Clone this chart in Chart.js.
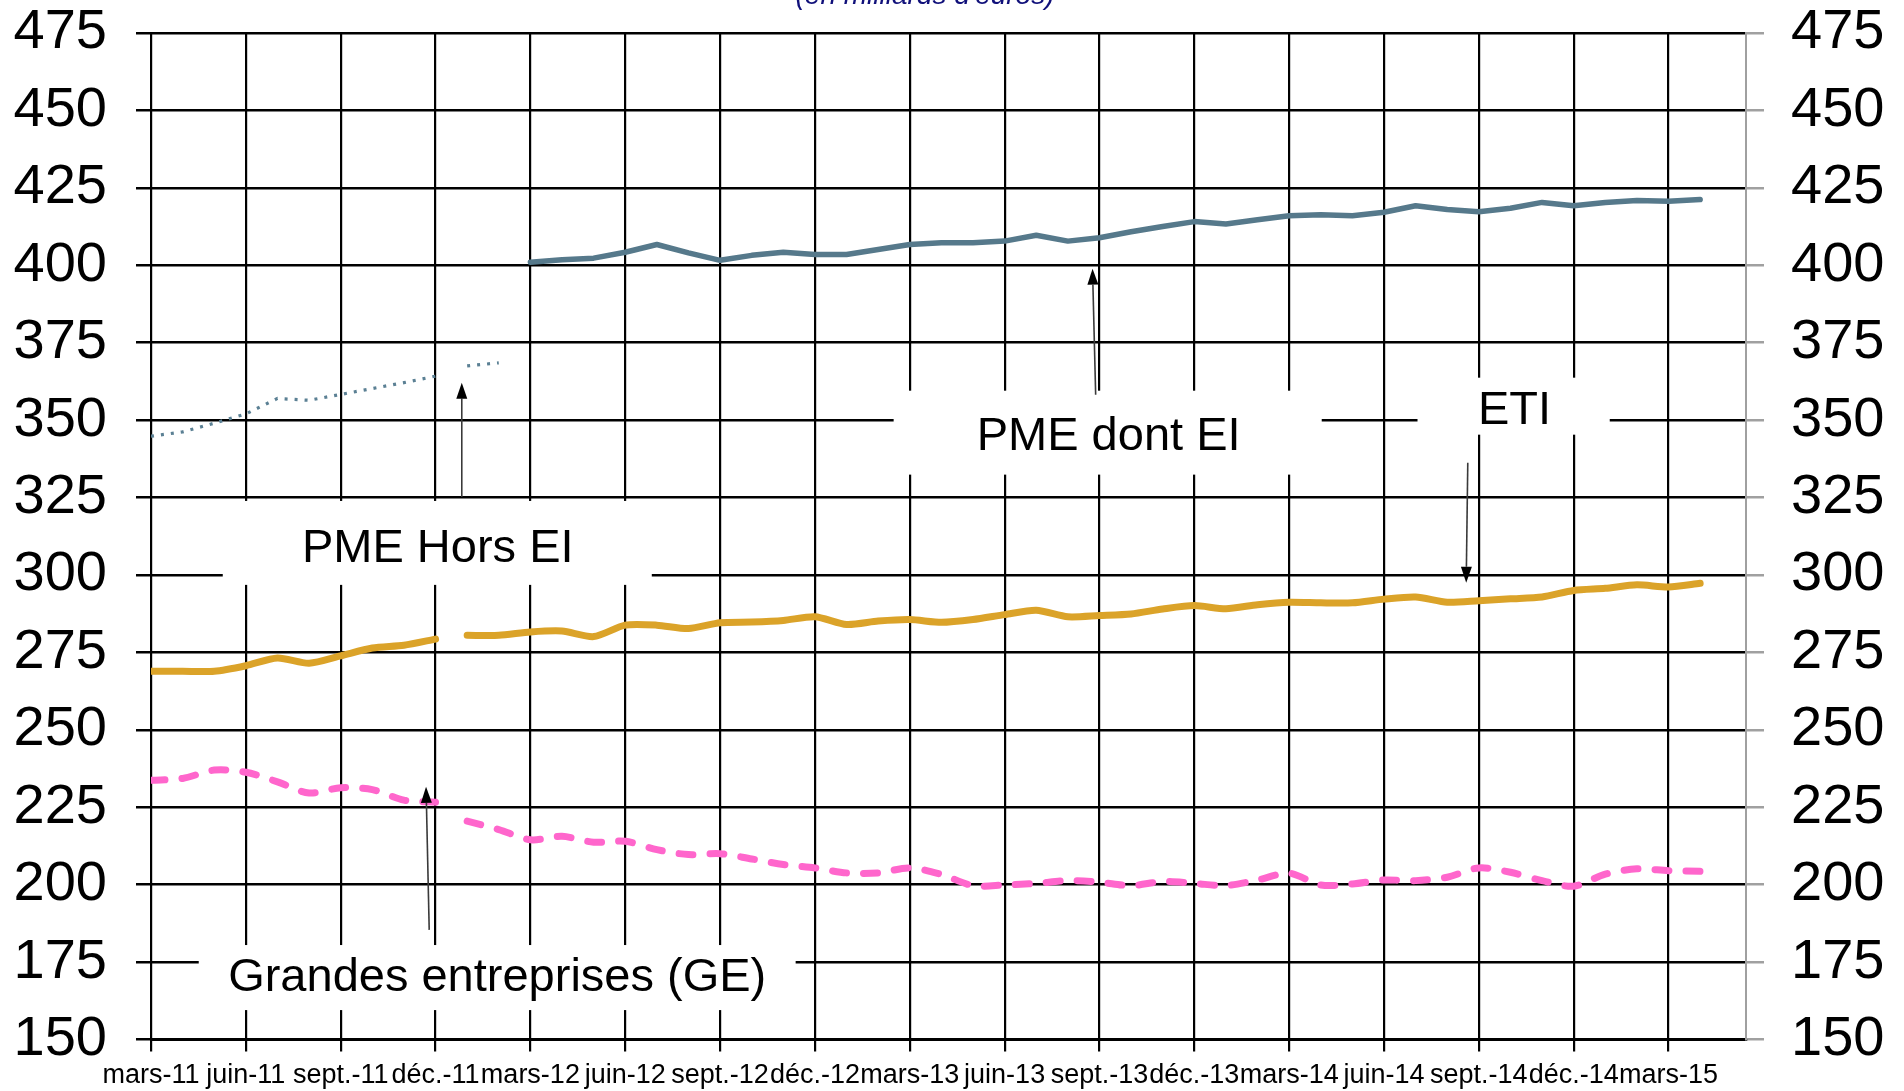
<!DOCTYPE html>
<html>
<head>
<meta charset="utf-8">
<script src="https://cdn.jsdelivr.net/npm/chart.js@4.4.1/dist/chart.umd.min.js"></script>
<style>
html,body{margin:0;padding:0;background:#fff;overflow:hidden}
#c{display:block}
</style>
</head>
<body>
<canvas id="c" width="1904" height="1091"></canvas>
<script>
// ---- data (monthly, month 0 = mars-11) ----
const tickLabels = ['mars-11','juin-11','sept.-11','déc.-11','mars-12','juin-12','sept.-12','déc.-12',
  'mars-13','juin-13','sept.-13','déc.-13','mars-14','juin-14','sept.-14','déc.-14','mars-15'];

// PME Hors EI (old series): mars-11 .. déc-11, then janv-12 .. févr-12
const pmeHorsEiA = [344.8, 346.2, 349.0, 352.0, 357.0, 356.4, 358.3, 360.2, 362.1, 364.2];
const pmeHorsEiB = [367.5, 368.5];
// PME dont EI: mars-12 .. avr-15
const pmeDontEi = [401.0, 401.8, 402.3, 404.2, 406.7, 404.0, 401.6, 403.2, 404.2, 403.5, 403.5, 405.1,
  406.7, 407.3, 407.3, 407.8, 409.7, 407.8, 408.9, 410.8, 412.5, 414.1, 413.3, 414.7, 416.0, 416.3,
  416.0, 417.1, 419.2, 418.0, 417.3, 418.4, 420.3, 419.2, 420.3, 420.9, 420.7, 421.2];
// ETI: mars-11 .. déc-11, then janv-12 .. avr-15
const etiA = [268.9, 268.9, 268.9, 270.7, 273.2, 271.5, 273.9, 276.4, 277.3, 279.3];
const etiB = [280.5, 280.5, 281.6, 281.9, 280.1, 283.8, 283.8, 282.7, 284.6, 284.8, 285.3, 286.5,
  284.0, 285.1, 285.6, 284.7, 285.6, 287.2, 288.6, 286.5, 286.9, 287.4, 289.0, 290.1, 289.1, 290.4,
  291.2, 291.0, 291.0, 292.2, 292.9, 291.2, 291.7, 292.3, 292.9, 295.0, 295.7, 296.8, 296.1, 297.3];
// Grandes entreprises: mars-11 .. déc-11, then janv-12 .. avr-15
const geA = [233.7, 234.3, 237.0, 236.3, 233.2, 229.6, 231.3, 230.7, 227.3, 226.6];
const geB = [220.5, 217.8, 214.5, 215.6, 213.7, 214.0, 211.3, 209.7, 210.0, 208.3, 206.5, 205.4,
  203.8, 203.8, 205.4, 203.3, 199.7, 199.9, 200.4, 201.3, 200.8, 199.7, 201.0, 200.4, 199.7, 201.5,
  203.7, 199.9, 200.2, 201.5, 201.3, 202.4, 205.4, 204.0, 201.3, 199.5, 203.4, 205.1, 204.5, 204.3];

const yMin = 150, yMax = 475, yStep = 25;
const titleText = "(en milliards d'euros)";

// annotation boxes / labels / arrows, in (month, value) coordinates
const annotations = [
  {text:'PME Hors EI', box:[2.27, 323.9, 15.84, 296.8], label:[9.07, 304.3], arrow:[9.83, 325.2, 9.83, 362.1]},
  {text:'PME dont EI', box:[23.49, 359.5, 37.03, 332.4], label:[30.29, 340.3], arrow:[29.88, 358.2, 29.78, 398.9]},
  {text:'ETI', box:[40.06, 363.7, 46.14, 345.3], label:[43.13, 348.9], arrow:[41.65, 336.2, 41.60, 297.5]},
  {text:'Grandes entreprises (GE)', box:[1.51, 180.5, 20.39, 159.5], label:[10.95, 165.5], arrow:[8.80, 185.4, 8.70, 231.6]}
];

const toPoints = (start, arr) => arr.map((v, i) => ({x: start + i, y: v}));
const FONT = "'Liberation Sans', Arial, sans-serif";

const annotPlugin = {
  id: 'annot',
  beforeDatasetsDraw(chart) {
    const {ctx, scales: {x, y}} = chart;
    ctx.save();
    ctx.fillStyle = '#ffffff';
    annotations.forEach(a => {
      const x0 = x.getPixelForValue(a.box[0]), x1 = x.getPixelForValue(a.box[2]);
      const y0 = y.getPixelForValue(a.box[1]), y1 = y.getPixelForValue(a.box[3]);
      ctx.fillRect(x0, y0, x1 - x0, y1 - y0);
    });
    ctx.restore();
  },
  afterDatasetsDraw(chart) {
    const {ctx, scales: {x, y}} = chart;
    ctx.save();
    annotations.forEach(a => {
      ctx.font = '47px ' + FONT;
      ctx.fillStyle = '#000';
      ctx.textAlign = 'center';
      ctx.textBaseline = 'alphabetic';
      ctx.fillText(a.text, x.getPixelForValue(a.label[0]), y.getPixelForValue(a.label[1]));
      const sx = x.getPixelForValue(a.arrow[0]), sy = y.getPixelForValue(a.arrow[1]);
      const tx = x.getPixelForValue(a.arrow[2]), ty = y.getPixelForValue(a.arrow[3]);
      const len = Math.hypot(tx - sx, ty - sy);
      const ux = (tx - sx) / len, uy = (ty - sy) / len;
      const hl = 16, hw = 5.5;
      const bx = tx - ux * hl, by = ty - uy * hl;
      ctx.strokeStyle = '#3a3a3a';
      ctx.lineWidth = 1.6;
      ctx.beginPath();
      ctx.moveTo(sx, sy);
      ctx.lineTo(bx, by);
      ctx.stroke();
      ctx.fillStyle = '#000';
      ctx.beginPath();
      ctx.moveTo(tx, ty);
      ctx.lineTo(bx - uy * hw, by + ux * hw);
      ctx.lineTo(bx + uy * hw, by - ux * hw);
      ctx.closePath();
      ctx.fill();
    });
    ctx.restore();
  },
  afterDraw(chart) {
    const ctx = chart.ctx;
    ctx.save();
    ctx.font = 'italic 28px ' + FONT;
    ctx.fillStyle = '#10107a';
    ctx.textAlign = 'center';
    ctx.textBaseline = 'alphabetic';
    ctx.fillText(titleText, 925, 4);
    ctx.restore();
  }
};

const lineBase = {pointRadius: 0, pointHoverRadius: 0, fill: false, borderJoinStyle: 'round', spanGaps: false};
const dotted = {...lineBase, borderColor: '#5b8094', borderWidth: 3.2, borderDash: [3, 7], tension: 0};
const slate = {...lineBase, borderColor: '#56798b', borderWidth: 5.5, tension: 0, borderCapStyle: 'round'};
const gold = {...lineBase, borderColor: '#dba329', borderWidth: 7, tension: 0.25, borderCapStyle: 'round'};
const pink = {...lineBase, borderColor: '#ff66cc', borderWidth: 7, borderDash: [14, 17], borderCapStyle: 'round', tension: 0.3};

const noVPad = (s) => { s.paddingTop = 0; s.paddingBottom = 0; };

new Chart(document.getElementById('c'), {
  type: 'line',
  data: {
    datasets: [
      {...dotted, label: 'PME Hors EI', data: toPoints(0, pmeHorsEiA)},
      {...dotted, label: 'PME Hors EI (suite)', data: toPoints(10, pmeHorsEiB)},
      {...slate, label: 'PME dont EI', data: toPoints(12, pmeDontEi)},
      {...gold, label: 'ETI', data: toPoints(0, etiA)},
      {...gold, label: 'ETI (suite)', data: toPoints(10, etiB)},
      {...pink, label: 'Grandes entreprises (GE)', data: toPoints(0, geA)},
      {...pink, label: 'GE (suite)', data: toPoints(10, geB)}
    ]
  },
  options: {
    responsive: false,
    animation: false,
    devicePixelRatio: 1,
    layout: {padding: {top: 33, left: 0, right: 0, bottom: 0}},
    plugins: {legend: {display: false}, tooltip: {enabled: false}, title: {display: false}},
    scales: {
      x: {
        type: 'linear', position: 'bottom', min: 0, max: 50.45,
        afterFit(s) { s.height = 51.5; s.paddingLeft = 0; s.paddingRight = 0; },
        ticks: {
          stepSize: 3, includeBounds: false, autoSkip: false, maxRotation: 0, minRotation: 0,
          padding: 8, color: '#000', font: {family: FONT, size: 27},
          callback: (v) => { const k = Math.round(v / 3); return tickLabels[k] !== undefined ? tickLabels[k] : ''; }
        },
        grid: {color: '#000', lineWidth: 2.2, tickLength: 12, tickColor: '#000'},
        border: {display: true, color: '#000', width: 2}
      },
      y: {
        position: 'left', min: yMin, max: yMax,
        afterFit(s) { s.width = 151; noVPad(s); },
        ticks: {stepSize: yStep, padding: 29, color: '#000', font: {family: FONT, size: 56}},
        grid: {color: '#000', lineWidth: 2.5, tickLength: 15, tickColor: '#000'},
        border: {display: true, color: '#000', width: 2}
      },
      y2: {
        position: 'right', min: yMin, max: yMax,
        afterFit(s) { s.width = 158; noVPad(s); },
        ticks: {stepSize: yStep, padding: 27, color: '#000', font: {family: FONT, size: 56}},
        grid: {drawOnChartArea: false, tickLength: 18, tickColor: '#a0a0a0', lineWidth: 2.5},
        border: {display: true, color: '#a0a0a0', width: 2}
      }
    }
  },
  plugins: [annotPlugin]
});
</script>
</body>
</html>
